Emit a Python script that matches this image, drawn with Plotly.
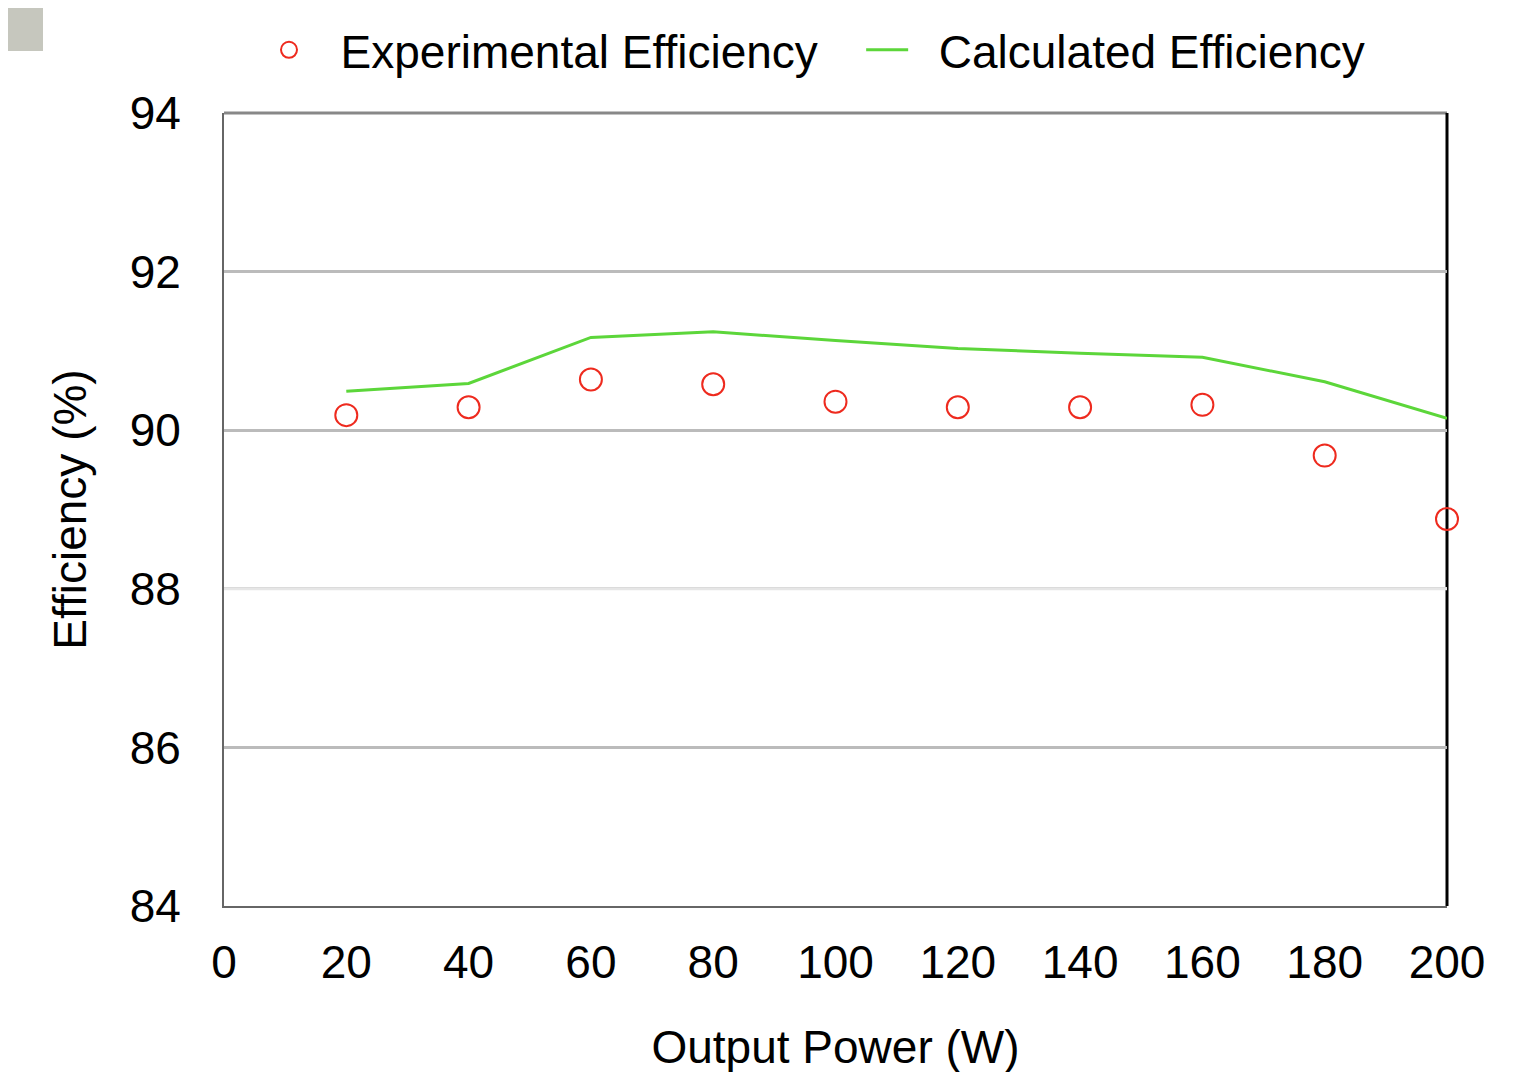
import plotly.graph_objects as go

power = [20, 40, 60, 80, 100, 120, 140, 160, 180, 200]
experimental = [90.19, 90.29, 90.64, 90.58, 90.36, 90.29, 90.29, 90.32, 89.68, 88.88]
calculated = [90.49, 90.59, 91.17, 91.24, 91.13, 91.03, 90.97, 90.92, 90.61, 90.15]
x_ticks = [0, 20, 40, 60, 80, 100, 120, 140, 160, 180, 200]
y_ticks = [84, 86, 88, 90, 92, 94]

FONT = "Liberation Sans, Arial, Helvetica, sans-serif"
NB = "\u00a0"

fig = go.Figure()
fig.add_trace(go.Scatter(
    x=power, y=experimental, mode="markers", name=NB * 2 + "Experimental Efficiency" + NB * 3,
    marker=dict(symbol="circle-open", size=22, color="#ee2a1e", line=dict(width=2, color="#ee2a1e")),
    cliponaxis=False,
))
fig.add_trace(go.Scatter(
    x=power, y=calculated, mode="lines", name=NB * 2 + "Calculated Efficiency",
    line=dict(color="#5cd63a", width=3),
))

fig.update_layout(
    width=1512, height=1065,
    margin=dict(l=216, r=73, t=105, b=167, autoexpand=False),
    paper_bgcolor="white", plot_bgcolor="rgba(0,0,0,0)",
    font=dict(family=FONT, size=46, color="black"),
    showlegend=True,
    legend=dict(orientation="h", x=39 / 1223, xanchor="left", y=1 + 63 / 792, yanchor="middle",
                font=dict(size=46), itemwidth=42, bgcolor="rgba(0,0,0,0)",
                itemsizing="trace"),
    xaxis=dict(range=[0, 200], tickvals=x_ticks, showgrid=False, zeroline=False,
               showline=True, linecolor="#666666", linewidth=2, ticks="",
               ticklabelstandoff=15, automargin=False,
               title=dict(text="Output Power (W)", standoff=45, font=dict(size=46))),
    yaxis=dict(range=[84, 94], tickvals=y_ticks, showgrid=True, gridcolor="#bbbbbb", gridwidth=3,
               zeroline=False, showline=True, linecolor="#666666", linewidth=2, ticks="",
               ticklabelstandoff=32, automargin=False,
               title=dict(text="Efficiency (%)", standoff=29, font=dict(size=46))),
)

# lighter gridline at 88 and frame edges
fig.add_shape(type="line", xref="paper", yref="y", x0=0, x1=1, y0=88, y1=88,
              line=dict(color="#e6e6e6", width=3), layer="above")
fig.add_shape(type="line", xref="paper", yref="paper", x0=0, x1=1, y0=1, y1=1,
              line=dict(color="#888888", width=3), layer="below")
fig.add_shape(type="line", xref="paper", yref="paper", x0=1, x1=1, y0=0, y1=1,
              line=dict(color="black", width=3), layer="below")
# cropped artifact at top-left
fig.add_shape(type="rect", xref="paper", yref="paper",
              x0=-216 / 1223, x1=(35 - 216) / 1223, y0=1 + (105 - 43) / 792, y1=1 + 105 / 792,
              line=dict(width=0), fillcolor="#c6c7be", layer="below")

fig.write_html("out.html")
